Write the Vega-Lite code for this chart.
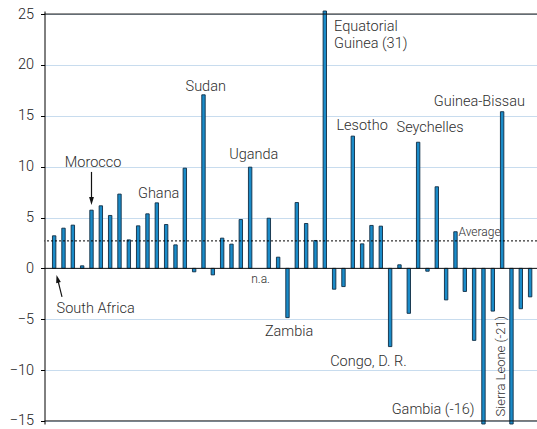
{
  "$schema": "https://vega.github.io/schema/vega-lite/v6.json",
  "width": 492.5,
  "height": 413,
  "autosize": "none",
  "padding": {"left": 44.5, "top": 11, "right": 0, "bottom": 5},
  "config": {
    "view": {"stroke": null},
    "font": "Roboto",
    "text": {"font": "Roboto", "fill": "#2e2e2e", "fontWeight": 300},
    "axisY": {"values": [-15, -10, -5, 0, 5, 10, 15, 20, 25], "title": null, "grid": true, "gridColor": "#c8dcee", "gridWidth": 1,
      "domainColor": "#000", "domainWidth": 1, "tickColor": "#000", "tickSize": 4, "labelPadding": 7,
      "labelFont": "Roboto", "labelFontSize": 14.5, "labelFontWeight": 300, "labelColor": "#222"}
  },
  "datasets": {
    "bars": [
      {"n": 1, "value": 3.2, "country": "South Africa"},
      {"n": 2, "value": 3.95},
      {"n": 3, "value": 4.25},
      {"n": 4, "value": 0.25},
      {"n": 5, "value": 5.72, "country": "Morocco"},
      {"n": 6, "value": 6.15},
      {"n": 7, "value": 5.2},
      {"n": 8, "value": 7.3},
      {"n": 9, "value": 2.8},
      {"n": 10, "value": 4.18},
      {"n": 11, "value": 5.36},
      {"n": 12, "value": 6.44, "country": "Ghana"},
      {"n": 13, "value": 4.31},
      {"n": 14, "value": 2.31},
      {"n": 15, "value": 9.85},
      {"n": 16, "value": -0.34},
      {"n": 17, "value": 17.06, "country": "Sudan"},
      {"n": 18, "value": -0.64},
      {"n": 19, "value": 2.97},
      {"n": 20, "value": 2.38},
      {"n": 21, "value": 4.8},
      {"n": 22, "value": 9.95, "country": "Uganda"},
      {"n": 23, "value": null},
      {"n": 24, "value": 4.93},
      {"n": 25, "value": 1.1},
      {"n": 26, "value": -4.84, "country": "Zambia"},
      {"n": 27, "value": 6.47},
      {"n": 28, "value": 4.41},
      {"n": 29, "value": 2.74},
      {"n": 30, "value": 31, "country": "Equatorial Guinea"},
      {"n": 31, "value": -2.05},
      {"n": 32, "value": -1.79},
      {"n": 33, "value": 13.0, "country": "Lesotho"},
      {"n": 34, "value": 2.41},
      {"n": 35, "value": 4.22},
      {"n": 36, "value": 4.15},
      {"n": 37, "value": -7.69, "country": "Congo, D. R."},
      {"n": 38, "value": 0.35},
      {"n": 39, "value": -4.42},
      {"n": 40, "value": 12.4, "country": "Seychelles"},
      {"n": 41, "value": -0.28},
      {"n": 42, "value": 8.02},
      {"n": 43, "value": -3.1},
      {"n": 44, "value": 3.6},
      {"n": 45, "value": -2.27},
      {"n": 46, "value": -7.08},
      {"n": 47, "value": -16, "country": "Gambia"},
      {"n": 48, "value": -4.2},
      {"n": 49, "value": 15.4, "country": "Guinea-Bissau"},
      {"n": 50, "value": -21, "country": "Sierra Leone"},
      {"n": 51, "value": -3.97},
      {"n": 52, "value": -2.8}
    ],
    "lines": [{"v": -15}, {"v": 0}, {"v": 25}],
    "average": [{"v": 2.7}],
    "arrowLines": [
      {"x": 5, "x2": 5, "y": 9.48, "y2": 6.63},
      {"x": 1.84, "x2": 1.36, "y": -2.81, "y2": -1.03}
    ],
    "arrowHeads": [
      {"x": 5, "y": 6.63, "angle": 0},
      {"x": 1.36, "y": -1.03, "angle": 165.7}
    ],
    "centerLabels": [
      {"x": 5.17, "y": 10.0, "label": "Morocco"},
      {"x": 12.2, "y": 6.92, "label": "Ghana"},
      {"x": 17.24, "y": 17.44, "label": "Sudan"},
      {"x": 22.39, "y": 10.8, "label": "Uganda"},
      {"x": 34.0, "y": 13.6, "label": "Lesotho"},
      {"x": 41.28, "y": 13.4, "label": "Seychelles"},
      {"x": 46.56, "y": 15.97, "label": "Guinea-Bissau"},
      {"x": 26.17, "y": -6.65, "label": "Zambia"},
      {"x": 34.67, "y": -9.6, "label": "Congo, D. R."},
      {"x": 41.6, "y": -14.3, "label": "Gambia (-16)"}
    ],
    "smallLabels": [
      {"x": 23.12, "y": -1.44, "label": "n.a."},
      {"x": 46.58, "y": 3.2, "label": "Average"}
    ],
    "leftLabels": [
      {"x": 30.99, "y": 23.3, "label": "Equatorial\nGuinea (31)"},
      {"x": 1.256, "y": -4.36, "label": "South Africa"}
    ],
    "rotLabels": [
      {"x": 49.29, "y": -9.62, "label": "Sierra Leone (-21)"}
    ]
  },
  "layer": [
    {
      "data": {"name": "bars"},
      "mark": {"type": "bar", "size": 3.4, "fill": "#1a8bc8", "stroke": "#102c44", "strokeWidth": 0.9},
      "encoding": {
        "x": {"field": "n", "type": "quantitative", "scale": {"domain": [0.5, 52.2], "nice": false, "zero": false}, "axis": null},
        "y": {"field": "value", "type": "quantitative", "stack": null, "title": null,
          "scale": {"domain": [-15.3, 25.3], "nice": false, "clamp": true}}
      }
    },
    {
      "data": {"name": "lines"},
      "mark": {"type": "rule", "color": "#111", "strokeWidth": 1},
      "encoding": {
        "y": {"field": "v", "type": "quantitative", "title": null, "scale": {"domain": [-15.3, 25.3], "nice": false, "clamp": true}}
      }
    },
    {
      "data": {"name": "average"},
      "mark": {"type": "rule", "color": "#000", "strokeWidth": 1, "strokeDash": [2, 2]},
      "encoding": {
        "y": {"field": "v", "type": "quantitative", "title": null, "scale": {"domain": [-15.3, 25.3], "nice": false, "clamp": true}}
      }
    },
    {
      "data": {"name": "arrowLines"},
      "mark": {"type": "rule", "color": "#111", "strokeWidth": 1.2},
      "encoding": {
        "x": {"field": "x", "type": "quantitative", "scale": {"domain": [0.5, 52.2], "nice": false, "zero": false}, "axis": null},
        "x2": {"field": "x2"},
        "y": {"field": "y", "type": "quantitative", "title": null, "scale": {"domain": [-15.3, 25.3], "nice": false, "clamp": true}},
        "y2": {"field": "y2"}
      }
    },
    {
      "data": {"name": "arrowHeads"},
      "mark": {"type": "point", "shape": "M-0.6,-1L0.6,-1L0,1Z", "size": 64, "filled": true, "color": "#111", "opacity": 1},
      "encoding": {
        "x": {"field": "x", "type": "quantitative", "scale": {"domain": [0.5, 52.2], "nice": false, "zero": false}, "axis": null},
        "y": {"field": "y", "type": "quantitative", "title": null, "scale": {"domain": [-15.3, 25.3], "nice": false, "clamp": true}},
        "angle": {"field": "angle", "type": "quantitative", "scale": null}
      }
    },
    {
      "data": {"name": "centerLabels"},
      "mark": {"type": "text", "align": "center", "baseline": "alphabetic", "fontSize": 14.5},
      "encoding": {
        "x": {"field": "x", "type": "quantitative", "scale": {"domain": [0.5, 52.2], "nice": false, "zero": false}, "axis": null},
        "y": {"field": "y", "type": "quantitative", "title": null, "scale": {"domain": [-15.3, 25.3], "nice": false, "clamp": true}},
        "text": {"field": "label"}
      }
    },
    {
      "data": {"name": "smallLabels"},
      "mark": {"type": "text", "align": "center", "baseline": "alphabetic", "fontSize": 12},
      "encoding": {
        "x": {"field": "x", "type": "quantitative", "scale": {"domain": [0.5, 52.2], "nice": false, "zero": false}, "axis": null},
        "y": {"field": "y", "type": "quantitative", "title": null, "scale": {"domain": [-15.3, 25.3], "nice": false, "clamp": true}},
        "text": {"field": "label"}
      }
    },
    {
      "data": {"name": "leftLabels"},
      "mark": {"type": "text", "align": "left", "baseline": "alphabetic", "fontSize": 14.5, "lineBreak": "\n", "lineHeight": 16.5},
      "encoding": {
        "x": {"field": "x", "type": "quantitative", "scale": {"domain": [0.5, 52.2], "nice": false, "zero": false}, "axis": null},
        "y": {"field": "y", "type": "quantitative", "title": null, "scale": {"domain": [-15.3, 25.3], "nice": false, "clamp": true}},
        "text": {"field": "label"}
      }
    },
    {
      "data": {"name": "rotLabels"},
      "mark": {"type": "text", "align": "center", "baseline": "alphabetic", "fontSize": 13, "angle": 270},
      "encoding": {
        "x": {"field": "x", "type": "quantitative", "scale": {"domain": [0.5, 52.2], "nice": false, "zero": false}, "axis": null},
        "y": {"field": "y", "type": "quantitative", "title": null, "scale": {"domain": [-15.3, 25.3], "nice": false, "clamp": true}},
        "text": {"field": "label"}
      }
    }
  ]
}
